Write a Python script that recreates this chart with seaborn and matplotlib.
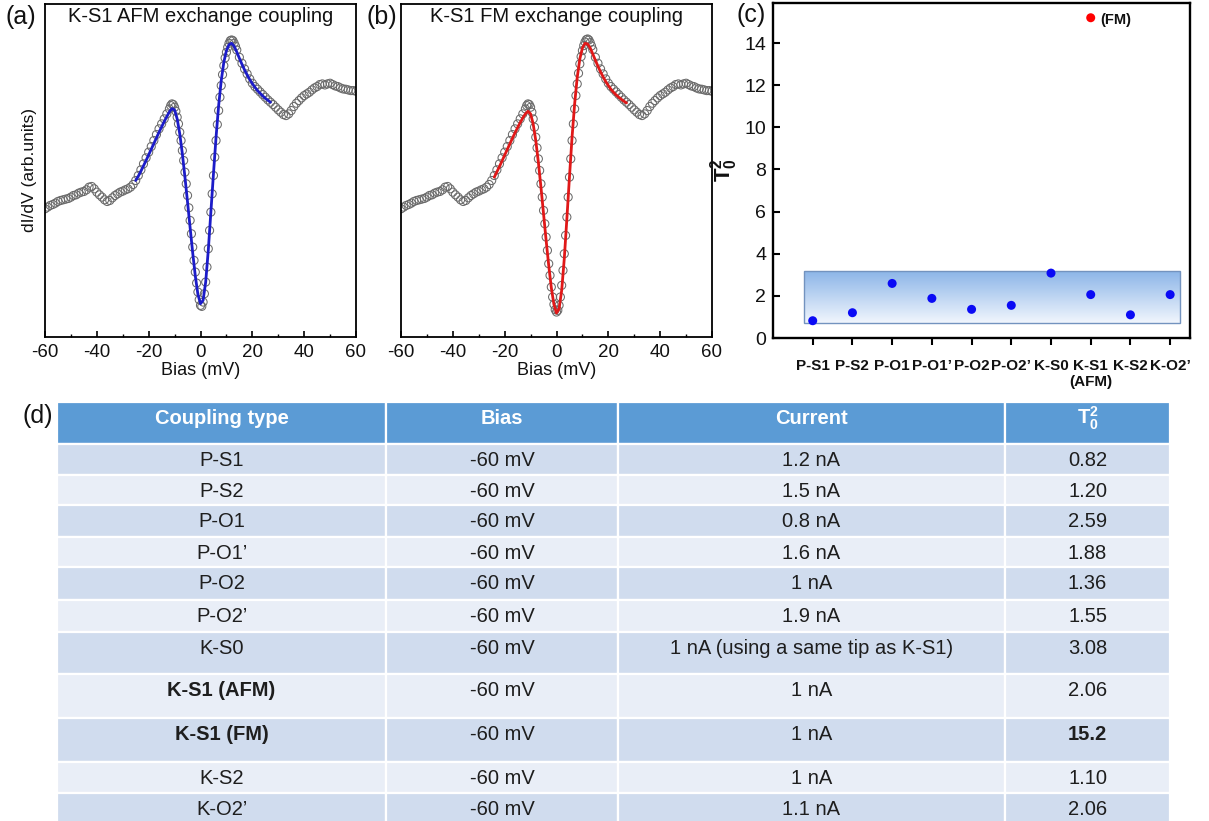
import numpy as np
import matplotlib
matplotlib.use("Agg")
import matplotlib.pyplot as plt
import seaborn as sns
import pandas as pd
from matplotlib.patches import Rectangle
from matplotlib.colors import LinearSegmentedColormap
from matplotlib.ticker import MultipleLocator

# ---------------- data ----------------
# bias grid of the measured spectra (mV): 1 mV steps outside, 0.5 mV steps in the centre
bias_mv = np.concatenate([np.arange(-60, -12, 1.0), np.arange(-12, 14.5, 0.5), np.arange(15, 61, 1.0)])

didv_afm = [
    38.5, 39.0, 39.5, 39.8, 40.2, 40.7, 41.0, 41.2, 41.4, 41.6,
    42.0, 42.5, 42.7, 43.2, 43.5, 43.7, 44.2, 45.0, 45.2, 44.5,
    43.5, 42.7, 42.0, 41.2, 40.7, 41.0, 41.8, 42.5, 43.0, 43.5,
    43.8, 44.2, 44.5, 45.0, 45.8, 47.0, 48.5, 50.2, 52.0, 53.8,
    55.5, 57.2, 59.0, 60.8, 62.5, 64.0, 65.5, 67.0,
    68.5, 69.5, 70.0, 69.8, 69.0, 67.8, 66.0, 64.0, 61.5, 59.0,
    56.0, 53.0, 49.5, 46.0, 42.5, 38.8, 35.0, 31.0, 27.0, 23.0,
    19.5, 16.2, 13.5, 11.2, 9.5, 9.2, 10.5, 13.0, 16.5, 21.0,
    26.5, 32.0, 37.5, 43.0, 48.5, 54.0, 59.0, 63.8, 68.0, 72.0,
    75.5, 78.8, 81.5, 83.8, 85.5, 87.0, 88.2, 89.0, 89.2, 89.0,
    88.2, 87.3, 86.2,
    84.0, 82.2, 80.5, 79.0, 77.5, 76.2,
    75.2, 74.4, 73.6, 72.8, 72.0, 71.2, 70.5, 69.8, 69.0, 68.2,
    67.5, 66.8, 66.5, 67.0, 68.0, 69.2, 70.2, 71.0, 71.8, 72.5,
    73.0, 73.5, 74.2, 74.8, 75.2, 75.8, 76.0, 75.7, 76.0, 76.2,
    75.8, 75.4, 75.2, 74.8, 74.5, 74.4, 74.2, 74.0, 74.0, 73.8,
]

didv_fm = [
    38.5, 39.0, 39.5, 39.8, 40.2, 40.7, 41.0, 41.2, 41.4, 41.6,
    42.0, 42.5, 42.7, 43.2, 43.5, 43.7, 44.2, 45.0, 45.2, 44.5,
    43.5, 42.7, 42.0, 41.2, 40.7, 41.0, 41.8, 42.5, 43.0, 43.5,
    43.8, 44.2, 44.5, 45.0, 45.8, 47.0, 48.5, 50.2, 52.0, 53.8,
    55.5, 57.2, 59.0, 60.8, 62.5, 64.0, 65.5, 67.0,
    68.5, 69.5, 70.0, 69.8, 69.0, 67.5, 65.5, 63.0, 60.0, 56.8,
    53.5, 50.0, 46.0, 42.0, 38.0, 34.0, 30.0, 26.0, 22.0, 18.5,
    15.0, 12.0, 9.8, 8.2, 7.5, 8.0, 9.5, 12.0, 15.5, 20.0,
    25.0, 30.5, 36.0, 42.0, 48.0, 53.5, 59.0, 64.0, 68.5, 72.5,
    76.0, 79.2, 82.0, 84.2, 86.0, 87.5, 88.6, 89.3, 89.5, 89.2,
    88.4, 87.4, 86.3,
    84.0, 82.2, 80.5, 79.0, 77.5, 76.2,
    75.2, 74.4, 73.6, 72.8, 72.0, 71.2, 70.5, 69.8, 69.0, 68.2,
    67.5, 66.8, 66.5, 67.0, 68.0, 69.2, 70.2, 71.0, 71.8, 72.5,
    73.0, 73.5, 74.2, 74.8, 75.2, 75.8, 76.0, 75.7, 76.0, 76.2,
    75.8, 75.4, 75.2, 74.8, 74.5, 74.4, 74.2, 74.0, 74.0, 73.8,
]

fit_afm_bias = np.arange(-25, 28, 1.0)
fit_afm = [
    47.0, 48.3, 49.8, 51.4, 53.0, 54.7, 56.4, 58.1, 59.8, 61.5,
    63.1, 64.7, 66.2, 67.6, 68.6, 68.2, 65.5, 61.0, 55.0, 48.0,
    40.5, 32.8, 25.2, 18.3, 12.8, 10.0, 11.0, 16.5, 26.0, 37.5,
    49.0, 60.0, 69.5, 77.0, 82.5, 86.0, 87.8, 88.2, 87.3, 85.6,
    83.7, 81.9, 80.2, 78.7, 77.3, 76.1, 75.0, 74.0, 73.2, 72.4,
    71.7, 71.1, 70.5,
]

fit_fm_bias = np.arange(-24, 28, 1.0)
fit_fm = [
    48.0, 49.6, 51.2, 52.9, 54.6, 56.3, 58.0, 59.7, 61.3, 62.9,
    64.4, 65.8, 67.0, 67.8, 67.0, 64.0, 59.0, 52.5, 45.0, 37.0,
    29.0, 21.5, 14.8, 9.8, 7.2, 8.5, 14.0, 23.5, 35.5, 48.0,
    60.0, 70.0, 78.0, 83.5, 86.8, 88.2, 88.0, 86.8, 85.0, 83.1,
    81.3, 79.6, 78.1, 76.7, 75.5, 74.4, 73.5, 72.7, 72.0, 71.4,
    70.8, 70.3,
]

categories = ["P-S1", "P-S2", "P-O1", "P-O1\u2019", "P-O2", "P-O2\u2019",
              "K-S0", "K-S1\n(AFM)", "K-S2", "K-O2\u2019"]
t0sq = [0.82, 1.20, 2.59, 1.88, 1.36, 1.55, 3.08, 2.06, 1.10, 2.06]
fm_category = "K-S1\n(AFM)"
fm_t0sq = 15.2

table_header = ["Coupling type", "Bias", "Current", r"T$_\mathbf{0}^\mathbf{2}$"]
coupling_types = ["P-S1", "P-S2", "P-O1", "P-O1\u2019", "P-O2", "P-O2\u2019", "K-S0",
                  "K-S1 (AFM)", "K-S1 (FM)", "K-S2", "K-O2\u2019"]
biases = ["-60 mV"] * 11
currents = ["1.2 nA", "1.5 nA", "0.8 nA", "1.6 nA", "1 nA", "1.9 nA",
            "1 nA (using a same tip as K-S1)", "1 nA", "1 nA", "1 nA", "1.1 nA"]
t0sq_text = ["0.82", "1.20", "2.59", "1.88", "1.36", "1.55", "3.08", "2.06", "15.2", "1.10", "2.06"]
bold_name_rows = ["K-S1 (AFM)", "K-S1 (FM)"]
bold_value_rows = ["K-S1 (FM)"]

# ---------------- style ----------------
sns.set_style("ticks")
plt.rcParams["font.family"] = ["Liberation Sans", "DejaVu Sans"]
plt.rcParams["axes.unicode_minus"] = False
plt.rcParams["mathtext.fontset"] = "custom"
plt.rcParams["mathtext.rm"] = "Liberation Sans"
plt.rcParams["mathtext.bf"] = "Liberation Sans:bold"
plt.rcParams["mathtext.it"] = "Liberation Sans:italic"

W, H = 1209, 821
fig = plt.figure(figsize=(W / 100, H / 100), dpi=100)
fig.patch.set_facecolor("white")


def px_axes(left, top, right, bottom):
    return fig.add_axes([left / W, 1 - bottom / H, (right - left) / W, (bottom - top) / H])


def spectrum_panel(ax, didv, fit_x, fit_y, fit_color, title):
    df = pd.DataFrame({"bias": bias_mv, "didv": didv})
    sns.scatterplot(data=df, x="bias", y="didv", ax=ax, s=34, facecolor="none",
                    edgecolor="#6a6a6a", linewidth=0.75, zorder=2)
    dff = pd.DataFrame({"bias": fit_x, "fit": fit_y})
    sns.lineplot(data=dff, x="bias", y="fit", ax=ax, color=fit_color, linewidth=2.0, zorder=3)
    ax.set_xlim(-60, 60)
    ax.set_ylim(0, 100)
    ax.set_yticks([])
    ax.xaxis.set_major_locator(MultipleLocator(20))
    ax.xaxis.set_minor_locator(MultipleLocator(10))
    ax.tick_params(axis="x", which="major", direction="in", length=4.5, width=1.2,
                   labelsize=13.5, pad=5, color="black", labelcolor="#111111")
    ax.tick_params(axis="x", which="minor", direction="in", length=2.5, width=1.0, color="black")
    for sp in ax.spines.values():
        sp.set_visible(True)
        sp.set_linewidth(1.3)
        sp.set_color("black")
    ax.set_xlabel("Bias (mV)", fontsize=13, labelpad=1, color="#111111")
    ax.text(0.5, 0.962, title, transform=ax.transAxes, ha="center", va="center",
            fontsize=14.5, color="#111111")


ax_a = px_axes(45, 4, 356, 337)
spectrum_panel(ax_a, didv_afm, fit_afm_bias, fit_afm, "#1c1cc8", "K-S1 AFM exchange coupling")
ax_a.set_ylabel("dI/dV (arb.units)", fontsize=12.5, labelpad=6, color="#111111")

ax_b = px_axes(401, 4, 712, 337)
spectrum_panel(ax_b, didv_fm, fit_fm_bias, fit_fm, "#e01818", "K-S1 FM exchange coupling")
ax_b.set_ylabel("")

# ---------------- panel (c) ----------------
ax_c = px_axes(773, 3, 1190, 338)
positions = np.arange(1, len(categories) + 1)
band = np.linspace(0, 1, 256).reshape(-1, 1)
band_cmap = LinearSegmentedColormap.from_list("band", ["#f1f6fd", "#8cb5e8"])
ax_c.imshow(band, extent=[0.78, 10.25, 0.73, 3.19], origin="lower", cmap=band_cmap,
            aspect="auto", zorder=1)
ax_c.add_patch(Rectangle((0.78, 0.73), 10.25 - 0.78, 3.19 - 0.73, fill=False,
                         edgecolor="#7393bf", linewidth=1.0, zorder=2))
sns.scatterplot(x=positions, y=t0sq, ax=ax_c, color="#0a0af5", s=42, edgecolor="none", zorder=4)
fm_pos = categories.index(fm_category) + 1
sns.scatterplot(x=[fm_pos], y=[fm_t0sq], ax=ax_c, color="#ff0000", s=42, edgecolor="none", zorder=4)
ax_c.annotate("(FM)", (fm_pos, fm_t0sq), xytext=(7, -1.5), textcoords="offset points",
              ha="left", va="center", fontsize=10.5, fontweight="bold", color="#111111")
ax_c.set_xlim(0, 10.5)
ax_c.set_ylim(0, 15.9)
ax_c.set_xticks(positions)
ax_c.set_xticklabels(categories, fontweight="bold", fontsize=11)
ax_c.set_yticks(np.arange(0, 15, 2))
ax_c.tick_params(axis="x", direction="out", length=5, width=1.5, pad=10, color="black",
                 labelcolor="#111111")
ax_c.tick_params(axis="y", direction="in", length=5, width=1.5, pad=5, labelsize=14,
                 color="black", labelcolor="#111111")
for sp in ax_c.spines.values():
    sp.set_visible(True)
    sp.set_linewidth(1.7)
    sp.set_color("black")
ax_c.set_ylabel(r"$\mathbf{T}_\mathbf{0}^\mathbf{2}$", fontsize=16, labelpad=3, color="#111111")
ax_c.set_xlabel("")

# ---------------- panel (d): table ----------------
ax_t = fig.add_axes([0, 0, 1, 1 - 395 / H])
ax_t.set_xlim(0, W)
ax_t.set_ylim(H, 395)
ax_t.axis("off")
col_edges = [57, 386, 618, 1005, 1170]
row_edges = [402, 444, 475, 505, 537, 567, 600, 632, 674, 718, 762, 793, 834]
header_color = "#5b9bd5"
row_colors = ["#d0dcee", "#e9eef7"]

rows = list(zip(coupling_types, biases, currents, t0sq_text))
all_rows = [table_header] + rows
for r, cells in enumerate(all_rows):
    top, bot = row_edges[r], row_edges[r + 1]
    face = header_color if r == 0 else row_colors[(r - 1) % 2]
    for c, txt in enumerate(cells):
        x0, x1 = col_edges[c], col_edges[c + 1]
        ax_t.add_patch(Rectangle((x0, top), x1 - x0, bot - top, facecolor=face,
                                 edgecolor="white", linewidth=1.6))
        if r == 0:
            weight, color, ty = "bold", "white", top + 16
        else:
            name = cells[0]
            bold = (c == 0 and name in bold_name_rows) or (c == 3 and name in bold_value_rows)
            weight, color, ty = ("bold" if bold else "normal"), "#1e1e1e", top + 16
        ax_t.text((x0 + x1) / 2, ty, txt, ha="center", va="center", fontsize=14.5,
                  fontweight=weight, color=color)

# ---------------- panel labels ----------------
for lab, xp, yp in [("(a)", 21, 17), ("(b)", 382, 17), ("(c)", 751, 15), ("(d)", 38, 416)]:
    fig.text(xp / W, 1 - yp / H, lab, ha="center", va="center", fontsize=18, color="#111111")

fig.savefig("out.png", dpi=100)
